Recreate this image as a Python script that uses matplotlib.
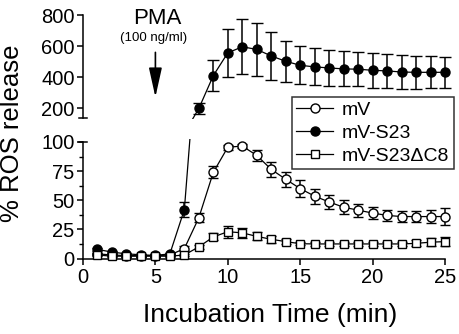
import matplotlib
matplotlib.use("Agg")
import matplotlib.pyplot as plt
from matplotlib.lines import Line2D
import numpy as np

plt.rcParams['font.family'] = ['Liberation Sans', 'DejaVu Sans']

# ---------------- data ----------------
time_min = list(range(1, 26))

mv = [4, 3, 2.5, 2.5, 2.5, 3, 8.5, 35, 74, 95.5, 96.5, 88.5, 76.5, 68, 60, 53.5,
      48.5, 44, 41.5, 39, 37, 36, 36, 36, 36]
mv_err = [1, 1, 1, 1, 1, 1, 2, 4, 5, 2, 2, 5, 6.5, 6.5, 7, 6.5, 6, 6, 5.5, 5, 5, 5, 5, 5.5, 7]

mv_s23 = [7.8, 5.5, 4, 3.2, 2.6, 4, 42, 200, 411, 557, 596, 579, 537, 503, 477, 467,
          460, 454, 452, 445, 441, 434, 432, 432, 432]
mv_s23_err = [1.5, 1, 1, 1, 1, 1, 6.5, 38, 100, 155, 177, 170, 153, 132, 122, 118,
              115, 112, 110, 112, 108, 107, 105, 103, 100]

mv_s23dc8 = [3, 2, 2, 2, 2, 2, 3, 10, 18.5, 23, 22, 19, 16.5, 14.5, 12.7, 12.5,
             12.5, 12.5, 12.5, 12.5, 12.5, 12.5, 13, 14, 14.5]
mv_s23dc8_err = [1, 1, 1, 1, 1, 1, 1, 2, 3, 5, 4.5, 3.5, 3, 2, 1.5, 1.5, 1.5, 1.5,
                 1.5, 1.5, 1.5, 1.5, 2.5, 3.5, 4]

labels = ['mV', 'mV-S23', 'mV-S23\u0394C8']
bottom_ticks = [0, 25, 50, 75, 100]
top_ticks = [200, 400, 600, 800]
x_ticks = [0, 5, 10, 15, 20, 25]

# ---------------- layout ----------------
W, H = 459, 334
fig = plt.figure(figsize=(W / 100, H / 100), dpi=100)

px_per_min = 362 / 25.0
x0_px = 83
xlim = (-0.5, 27.0)
ax_left = (x0_px + xlim[0] * px_per_min) / W
ax_width = (xlim[1] - xlim[0]) * px_per_min / W

# bottom panel: 0 -> 258.5 px, 100 -> 142 px
b_scale = 116.5 / 100.0
b_ylim = (-6, 103)
b_bot_px = 258.5 - b_ylim[0] * b_scale
b_top_px = 258.5 - b_ylim[1] * b_scale
axb = fig.add_axes([ax_left, 1 - b_bot_px / H, ax_width, (b_bot_px - b_top_px) / H])

# top panel: 800 -> 15 px, 140 -> 117.8 px
t_scale = 102.8 / 660.0
t_ylim = (135, 820)
t_bot_px = 15 + (800 - t_ylim[0]) * t_scale
t_top_px = 15 - (t_ylim[1] - 800) * t_scale
axt = fig.add_axes([ax_left, 1 - t_bot_px / H, ax_width, (t_bot_px - t_top_px) / H])

series = [
    (mv, mv_err, dict(marker='o', mfc='white', mec='black', ms=6.5, mew=1.0)),
    (mv_s23, mv_s23_err, dict(marker='o', mfc='black', mec='black', ms=6.5, mew=1.0)),
    (mv_s23dc8, mv_s23dc8_err, dict(marker='s', mfc='white', mec='black', ms=5.8, mew=1.0)),
]

for ax in (axb, axt):
    ax.patch.set_alpha(0)
    for vals, err, mk in series:
        cap = 4.0 if vals is mv_s23 and ax is axt else 3.5
        ax.errorbar(time_min, vals, yerr=err, color='black', lw=0.9,
                    elinewidth=1.1, capsize=cap, capthick=1.1, zorder=3, **mk)
    ax.set_xlim(*xlim)
    ax.spines['right'].set_visible(False)
    ax.spines['top'].set_visible(False)
    ax.spines['left'].set_position(('data', 0))
    ax.spines['left'].set_linewidth(1.1)
    ax.tick_params(axis='y', direction='out', length=4.5, width=1.1, pad=1.5,
                   labelsize=14.5)

# bottom axes details
axb.set_ylim(*b_ylim)
axb.spines['bottom'].set_position(('data', 0))
axb.spines['bottom'].set_bounds(0, 25)
axb.spines['bottom'].set_linewidth(1.1)
axb.spines['left'].set_bounds(0, 100)
axb.set_yticks(bottom_ticks)
axb.set_yticks([12.5, 37.5, 62.5, 87.5], minor=True)
axb.tick_params(axis='y', which='minor', direction='out', length=3, width=1.0)
axb.set_xticks(x_ticks)
axb.tick_params(axis='x', direction='out', length=4.5, width=1.1, pad=2,
                labelsize=14.5)
# "T" cap at the top of lower y-axis
axb.plot([-0.3, 0.3], [100, 100], color='black', lw=1.1, clip_on=False, zorder=4)

# top axes details
axt.set_ylim(*t_ylim)
axt.spines['bottom'].set_visible(False)
axt.spines['left'].set_bounds(140, 800)
axt.set_yticks(top_ticks)
axt.set_xticks([])
axt.plot([-0.3, 0.3], [140, 140], color='black', lw=1.1, clip_on=False, zorder=4)

# PMA arrow
axt.annotate('', xy=(5, 273), xytext=(5, 560),
             arrowprops=dict(arrowstyle='-|>,head_length=1.8,head_width=0.4',
                             mutation_scale=10, color='black', lw=1.2,
                             shrinkA=0, shrinkB=0))
fig.text(157 / W, 1 - 19 / H, 'PMA', ha='center', va='center', fontsize=16)
fig.text(154 / W, 1 - 37.5 / H, '(100 ng/ml)', ha='center', va='center', fontsize=9.5)

# axis labels
fig.text(12 / W, 1 - 133 / H, '% ROS release', rotation=90, ha='center',
         va='center', fontsize=18.5)
fig.text(270 / W, 1 - 315 / H, 'Incubation Time (min)', ha='center',
         va='center', fontsize=19)

# legend
handles = [Line2D([], [], color='black', lw=0.9, **mk) for _, _, mk in series]
leg = axt.legend(handles, labels, loc='upper left',
                 bbox_to_anchor=(292 / W, 1 - 97 / H), bbox_transform=fig.transFigure,
                 frameon=True, fancybox=False, edgecolor='black', fontsize=14,
                 handlelength=1.9, handletextpad=0.45, labelspacing=0.28,
                 borderpad=0.22, borderaxespad=0)
leg.get_frame().set_linewidth(1.1)
leg.set_zorder(10)

fig.savefig('out.png', dpi=100)
